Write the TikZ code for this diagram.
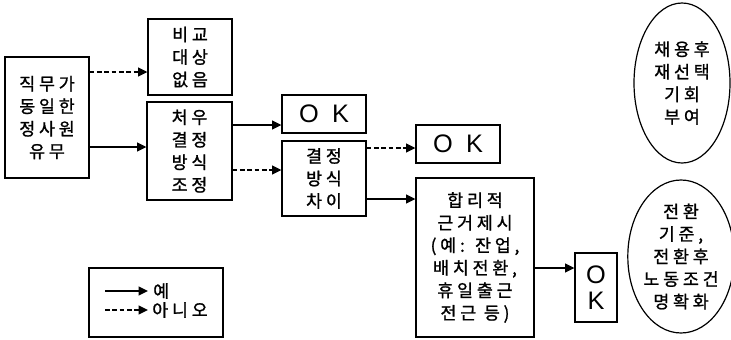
\documentclass[tikz,border=0pt]{standalone}
\usepackage{fontspec}
\setmainfont{Noto Sans CJK KR}[LetterSpace=22,FakeBold=1.2]
\newfontfamily\latinf{Liberation Sans}[LetterSpace=25]
\usetikzlibrary{arrows.meta,shapes.geometric}
\newcommand{\kr}{\fontsize{13pt}{16.9pt}\selectfont}
\newcommand{\okf}{\latinf\fontsize{19pt}{19.5pt}\selectfont}
\begin{document}
\begin{tikzpicture}[x=0.75pt,y=-0.75pt,
  bx/.style={draw, line width=0.9pt, inner sep=0pt, align=center, font=\kr},
  okbox/.style={draw, line width=0.9pt, inner sep=0pt, align=center, font=\okf},
  ell/.style={draw, ellipse, line width=0.9pt, inner sep=0pt, align=center, font=\kr},
  yes/.style={line width=1.5pt, -{Triangle[length=7pt,width=6.5pt]}},
  no/.style={line width=1.5pt, dash pattern=on 3.5pt off 2pt, -{Triangle[length=7pt,width=6.5pt]}}
]
\useasboundingbox (0,0) rectangle (731,339);

\node[bx, minimum width=63pt, minimum height=90.75pt] (A) at (47,117.5) {직무가\\동일한\\정사원\\유무};
\node[bx, minimum width=63pt, minimum height=57pt] (B) at (190,57) {비교\\대상\\없음};
\node[bx, minimum width=63.75pt, minimum height=73.5pt] (C) at (189.5,151) {처우\\결정\\방식\\조정};
\node[okbox, minimum width=63pt, minimum height=28.5pt] (OK1) at (324,114) {O K};
\node[bx, minimum width=63pt, minimum height=56.25pt] (D) at (324,178.5) {결정\\방식\\차이};
\node[okbox, minimum width=63pt, minimum height=28.5pt] (OK2) at (458,144) {O K};
\node[bx, minimum width=88.5pt, minimum height=119.25pt] (E) at (475,257.5) {합리적\\근거제시\\(예: 잔업,\\배치전환,\\휴일출근\\전근 등)};
\node[okbox, minimum width=31.5pt, minimum height=51.75pt, font=\latinf\fontsize{19pt}{19.5pt}\selectfont] (OK3) at (596,287.5) {O\\K};
\node[ell, minimum width=72pt, minimum height=120pt] (E1) at (682,83) {채용후\\재선택\\기회\\부여};
\node[ell, minimum width=73.5pt, minimum height=114.75pt] (E2) at (681,256.5) {전환\\기준,\\전환후\\노동조건\\명확화};

\node[draw, line width=0.9pt, minimum width=100.5pt, minimum height=51.75pt] (L) at (156,302.5) {};

\draw[no]  (A.east |- 0,72)  -- (B.west |- 0,72);
\draw[yes] (A.east |- 0,147) -- (C.west |- 0,147);
\draw[yes] (C.east |- 0,125) -- (OK1.west |- 0,125);
\draw[no]  (C.east |- 0,170) -- (D.west |- 0,170);
\draw[no]  (D.east |- 0,148) -- (OK2.west |- 0,148);
\draw[yes] (D.east |- 0,199) -- (E.west |- 0,199);
\draw[yes] (E.east |- 0,268) -- (OK3.west |- 0,268);

\coordinate (y1) at (105,291);
\coordinate (y2) at (148,291);
\coordinate (n1) at (105,310);
\coordinate (n2) at (148,310);
\draw[yes] (y1) -- (y2);
\draw[no] (n1) -- (n2);
\node[anchor=west, inner sep=0pt, font=\kr] (ty) at (153,291) {예};
\node[anchor=west, inner sep=0pt, font=\kr] (tn) at (152,310) {아니오};
\end{tikzpicture}
\end{document}
